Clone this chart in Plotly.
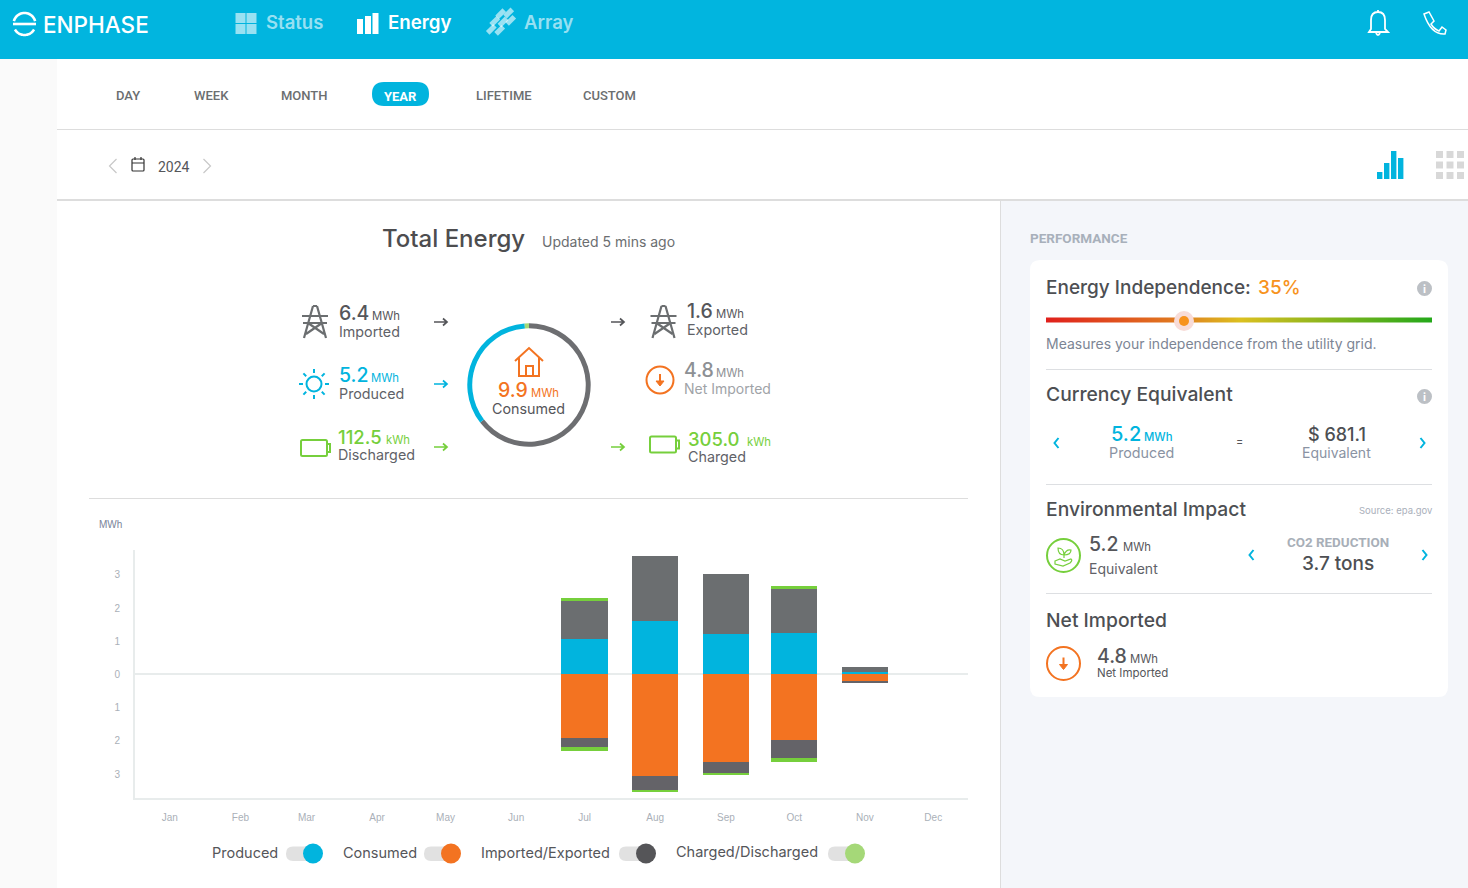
# Enphase "Total Energy" dashboard, year view
import math
import plotly.graph_objects as go

W, H = 1468, 888

# monthly energy in MWh
months = ["Jan", "Feb", "Mar", "Apr", "May", "Jun", "Jul", "Aug", "Sep", "Oct", "Nov", "Dec"]
produced = [0, 0, 0, 0, 0, 0, 1.06, 1.61, 1.22, 1.25, 0.08, 0]
imported = [0, 0, 0, 0, 0, 0, 1.16, 1.95, 1.81, 1.35, 0.16, 0]
discharged = [0, 0, 0, 0, 0, 0, 0.08, 0, 0, 0.05, 0, 0]
consumed = [0, 0, 0, 0, 0, 0, 1.92, 3.06, 2.65, 1.97, 0.21, 0]
exported = [0, 0, 0, 0, 0, 0, 0.25, 0.44, 0.33, 0.56, 0.03, 0]
charged = [0, 0, 0, 0, 0, 0, 0.14, 0.04, 0.05, 0.11, 0, 0]

y_ticks = [-3, -2, -1, 0, 1, 2, 3]
y_labels = ["3", "2", "1", "0", "1", "2", "3"]

# consumption ring: from grid, from solar, from battery
ring_values = [6.4, 3.4, 0.1125]

BLUE = "#01b4de"
ORANGE = "#f37321"
GREEN = "#76cf3c"
LGREEN = "#a5d878"
GREY = "#6b6e70"
DGREY = "#646368"
TEXT = "#55565a"
LABEL = "#5f6268"
SOFT = "#8a93a3"
FONT = "Inter, sans-serif"
NARROW = "Roboto, sans-serif"
CHART = "'Liberation Sans', Arial, sans-serif"

shapes = []
notes = []


def txt(x, y, s, size, color=TEXT, anchor="left", weight=400, family=FONT):
    # annotations sit a little inside their anchor
    shift = {"left": -1, "center": 0, "right": 2}[anchor]
    notes.append(dict(x=x + shift, y=y, xref="x2", yref="y2", text=s, showarrow=False,
                      xanchor=anchor, yanchor="middle", borderpad=0,
                      font=dict(size=size, color=color, family=family, weight=weight)))


def rect(x0, y0, x1, y1, fill, line=None, width=0):
    shapes.append(dict(type="rect", xref="x2", yref="y2", x0=x0, y0=y0, x1=x1, y1=y1,
                       fillcolor=fill, line=dict(color=line or fill, width=width)))


def circle(cx, cy, r, fill="rgba(0,0,0,0)", line=None, width=0):
    shapes.append(dict(type="circle", xref="x2", yref="y2", x0=cx - r, y0=cy - r, x1=cx + r, y1=cy + r,
                       fillcolor=fill, line=dict(color=line or fill, width=width)))


def path(d, color, width=1.8, fill="rgba(0,0,0,0)"):
    shapes.append(dict(type="path", xref="x2", yref="y2", path=d, fillcolor=fill,
                       line=dict(color=color, width=width)))


def hline(y, x0, x1, color="#dddddd", width=1):
    path(f"M{x0},{y} L{x1},{y}", color, width)


def round_box(x0, y0, x1, y1, r):
    return (f"M{x0 + r},{y0} L{x1 - r},{y0} Q{x1},{y0} {x1},{y0 + r} L{x1},{y1 - r} Q{x1},{y1} {x1 - r},{y1} "
            f"L{x0 + r},{y1} Q{x0},{y1} {x0},{y1 - r} L{x0},{y0 + r} Q{x0},{y0} {x0 + r},{y0} Z")


def arc(cx, cy, r, a0, a1):
    n = 24
    pts = []
    for i in range(n + 1):
        a = math.radians(a0 + (a1 - a0) * i / n)
        pts.append(f"{cx + r * math.cos(a):.2f},{cy + r * math.sin(a):.2f}")
    return "M" + " L".join(pts)


def arrow(x0, x1, y, color):
    path(f"M{x0},{y} L{x1},{y} M{x1 - 4},{y - 3.5} L{x1},{y} L{x1 - 4},{y + 3.5}", color, 1.7)


def chevron(x, y, dirn, color, h=5, w=4, width=2):
    path(f"M{x - dirn * w / 2},{y - h} L{x + dirn * w / 2},{y} L{x - dirn * w / 2},{y + h}", color, width)


def tower(cx, top, color):
    b = top + 32
    path(f"M{cx - 2},{top} L{cx - 11},{b} M{cx + 2},{top} L{cx + 11},{b} "
         f"M{cx - 2},{top} L{cx + 2},{top} "
         f"M{cx - 13},{top + 10} L{cx + 13},{top + 10} M{cx - 12},{top + 17} L{cx + 12},{top + 17} "
         f"M{cx - 7},{top + 17} L{cx + 9},{b - 4} M{cx + 7},{top + 17} L{cx - 9},{b - 4}", color, 2.2)


def battery(x, y, color):
    path(round_box(x, y, x + 26, y + 16, 1.5), color, 2)
    path(f"M{x + 26},{y + 4} L{x + 29},{y + 4} L{x + 29},{y + 12} L{x + 26},{y + 12}", color, 2)


def down_badge(cx, cy, r, width=2):
    circle(cx, cy, r, line=ORANGE, width=width)
    path(f"M{cx},{cy - 6} L{cx},{cy + 5}", ORANGE, 2)
    path(f"M{cx - 4},{cy + 1} L{cx},{cy + 6} L{cx + 4},{cy + 1} Z", ORANGE, 1, ORANGE)


def info(cx, cy):
    circle(cx, cy, 7.5, "#bcc0c5")
    txt(cx, cy, "i", 11, "#ffffff", "center", 700)


def kpi(x, y, value, unit, label, color=TEXT, label_color=LABEL, unit_x=None, size=19.5, label_size=14.3):
    txt(x, y, value, size, color, weight=500)
    txt(unit_x, y + 3, unit, 11.3, color)
    txt(x, y + 18, label, label_size, label_color)


# page furniture
rect(0, 0, W, 59, "#01b5df")
rect(0, 59, 57, H, "#fafafa")
rect(1001, 201, W, H, "#f4f6fa")
hline(129.5, 57, W, "#dddddd", 1)
hline(200, 57, W, "#dddddd", 2)
path(f"M1000.5,201 L1000.5,{H}", "#dddddd", 1)
path(round_box(1030, 260, 1448, 697, 10), "#ffffff", 0, "#ffffff")

# header
path(arc(24.5, 24, 11, 195, 345), "#ffffff", 2.6)
path(arc(24.5, 24, 11, 30, 150), "#ffffff", 2.6)
path("M13,24 L36,24", "#ffffff", 2.6)
txt(43, 24, "ENPHASE", 22.5, "#ffffff", weight=500)
FADED = "rgba(255,255,255,0.6)"
for x0, y0 in [(235.5, 13), (246.5, 13), (235.5, 24), (246.5, 24)]:
    rect(x0, y0, x0 + 10, y0 + 10, FADED)
txt(266, 22, "Status", 18.5, FADED, weight=600)
for x0, top in [(357, 19), (365, 16), (372.5, 13)]:
    rect(x0, top, x0 + 6, 34, "#ffffff")
txt(388, 22, "Energy", 18.7, "#ffffff", weight=600)
for cx, cy in [(500.7, 13.7), (508.7, 13), (494.7, 21.3), (503, 22), (510.7, 20.3), (491.3, 29.3), (499.7, 30.3)]:
    # tile tilted 45 degrees
    path(f"M{cx - 5.4},{cy + 1.8} L{cx + 1.8},{cy - 5.4} L{cx + 5.4},{cy - 1.8} L{cx - 1.8},{cy + 5.4} Z", FADED, 0, FADED)
txt(524, 22, "Array", 18.5, FADED, weight=600)
# bell, phone
path("M1369,32 L1371,29 L1371,20 Q1371,12 1378,12 Q1385,12 1385,20 L1385,29 L1388,32 Z M1376,33 Q1378,37 1380,33 M1378,10 L1378,12",
     "#ffffff", 1.8)
path("M1424,14 L1429,12 L1434,21 L1431,24 Q1434,29 1439,31 L1442,27 L1446,30 L1445,34 Q1431,35 1424,14 Z", "#ffffff", 1.5)

# range tabs
path(round_box(372, 82, 429, 106, 12), BLUE, 0, BLUE)
for x, name in [(128, "DAY"), (211.5, "WEEK"), (304, "MONTH"), (504, "LIFETIME"), (609, "CUSTOM")]:
    txt(x, 95.5, name, 13, GREY, "center", 500, NARROW)
txt(400.5, 96.5, "YEAR", 13, "#ffffff", "center", 700, NARROW)

# date row
chevron(113, 166, -1, "#c8c8c8", 7, 7, 1.2)
path(round_box(132, 159, 144, 171, 1), "#333333", 1.2)
path("M132,163 L144,163 M135,157 L135,160 M141,157 L141,160", "#333333", 1.2)
txt(158, 166.5, "2024", 14, TEXT, weight=400, family=NARROW)
chevron(207, 166, 1, "#c8c8c8", 7, 7, 1.2)
for x0, top in [(1377, 172), (1384, 163), (1391, 151), (1398, 158)]:
    rect(x0, top, x0 + 5.4, 179, BLUE)
for x0 in [1436, 1446.5, 1457]:
    for y0 in [151, 161.5, 172]:
        rect(x0, y0, x0 + 7, y0 + 7, "#d8d8d8")

# title and flow summary
txt(382, 238, "Total Energy", 24, "#4d4d4f", weight=500)
txt(542, 241, "Updated 5 mins ago", 14, GREY)
hline(498.5, 89, 968, "#dddddd", 1)
txt(99, 524.5, "MWh", 10, "#7a8499", family=CHART)

tower(315, 306, GREY)
kpi(339, 313, "6.4", "MWh", "Imported", unit_x=372)
arrow(434, 447, 322, TEXT)
circle(314, 384, 7.5, line=BLUE, width=2)
for k in range(8):
    a = math.radians(k * 45)
    path(f"M{314 + 11 * math.cos(a):.1f},{384 + 11 * math.sin(a):.1f} L{314 + 15 * math.cos(a):.1f},{384 + 15 * math.sin(a):.1f}", BLUE, 2)
kpi(339, 375, "5.2", "MWh", "Produced", BLUE, unit_x=371)
arrow(434, 447, 384, BLUE)
battery(301, 440, GREEN)
kpi(338, 437, "112.5", "kWh", "Discharged", GREEN, unit_x=386, size=18.5)
arrow(434, 447, 447, GREEN)

path("M515,361 L529,348 L543,361 M519,358 L519,376 L539,376 L539,358 M526,376 L526,366 L533,366 L533,376", ORANGE, 2)
txt(498, 390, "9.9", 19.5, ORANGE, weight=500)
txt(531, 393, "MWh", 11.3, ORANGE)
txt(528.5, 408, "Consumed", 14.3, TEXT, "center")

arrow(611, 624, 322, TEXT)
tower(663.5, 306, GREY)
kpi(687, 311, "1.6", "MWh", "Exported", unit_x=716)
down_badge(660, 380, 13.5)
kpi(684, 370, "4.8", "MWh", "Net Imported", "#8d9094", "#a0a3a7", unit_x=716, label_size=14)
arrow(611, 624, 447, GREEN)
battery(650, 436.5, GREEN)
kpi(688, 439, "305.0", "kWh", "Charged", GREEN, unit_x=747, size=18.5)

# performance panel
txt(1030, 237.5, "PERFORMANCE", 13.5, "#a8b0bb", weight=700, family=NARROW)
txt(1046, 287, "Energy Independence:", 19, "#4d4f53", weight=500)
txt(1258, 287, "35%", 19, "#f7931e", weight=500)
info(1424.5, 288.5)
stops = [(0, (224, 32, 28)), (0.35, (224, 127, 32)), (0.5, (220, 192, 32)), (1, (34, 168, 26))]
xs = 1046
while xs < 1432:
    t = (xs - 1046) / 386
    for (p0, c0), (p1, c1) in zip(stops, stops[1:]):
        if p0 <= t <= p1:
            f = (t - p0) / (p1 - p0)
            col = [round(a + (b - a) * f) for a, b in zip(c0, c1)]
            break
    rect(xs, 317.5, xs + 2, 322.5, f"rgb({col[0]},{col[1]},{col[2]})")
    xs += 2
circle(1184, 321, 10, "#f8dcd8")
circle(1184, 321, 5, "#f7931e")
txt(1046, 343, "Measures your independence from the utility grid.", 14, "#7c8594")
hline(369.5, 1046, 1432, "#dddfe2", 1)
txt(1046, 394, "Currency Equivalent", 19.3, "#4d4f53", weight=500)
info(1424.5, 396.5)
chevron(1056.5, 443, -1, BLUE)
chevron(1422.5, 443, 1, BLUE)
txt(1111, 434, "5.2", 20, BLUE, weight=500)
txt(1144, 437, "MWh", 11.3, BLUE, weight=500)
txt(1141.5, 452, "Produced", 14.3, SOFT, "center")
txt(1239, 441, "=", 11, TEXT, "center")
txt(1337, 434, "$ 681.1", 18, "#4d4f53", "center", 500)
txt(1336.5, 452, "Equivalent", 14, SOFT, "center")
hline(484.5, 1046, 1432, "#dddfe2", 1)
txt(1046, 509, "Environmental Impact", 19.3, "#4d4f53", weight=500)
txt(1432, 510, "Source: epa.gov", 9.5, "#aab0bb", "right")
circle(1063.5, 555.5, 16.5, line=GREEN, width=2)
path("M1055,561 L1060,559 L1065,561 L1071,559 Q1073,560 1070,563 L1063,566 L1055,564 Z "
     "M1064,558 L1064,553 M1064,555 Q1058,555 1058,548 Q1064,548 1064,555 Z M1064,555 Q1066,549 1071,550 Q1071,555 1064,555 Z", GREEN, 1.2)
txt(1089, 544, "5.2", 19.5, TEXT, weight=500)
txt(1123, 547, "MWh", 11.3, TEXT)
txt(1089, 568, "Equivalent", 14, LABEL)
chevron(1251.5, 555, -1, BLUE)
chevron(1424.5, 555, 1, BLUE)
txt(1338, 542.5, "CO2 REDUCTION", 13.4, "#a8afb8", "center", 700, NARROW)
txt(1338, 563, "3.7 tons", 19, "#4d4f53", "center", 500)
hline(593.5, 1046, 1432, "#dddfe2", 1)
txt(1046, 620, "Net Imported", 19.3, "#4d4f53", weight=500)
down_badge(1063.5, 663.5, 16.5)
txt(1097, 656, "4.8", 19.5, TEXT, weight=500)
txt(1130, 659, "MWh", 11.3, TEXT)
txt(1097, 673, "Net Imported", 11.5, TEXT)

# toggles under the chart
for text_x, name, track_x, color in [(212, "Produced", 286, BLUE), (343, "Consumed", 424, ORANGE),
                                     (481, "Imported/Exported", 619, "#555558"), (676, "Charged/Discharged", 828, LGREEN)]:
    txt(text_x, 852, name, 14.5, TEXT)
    path(round_box(track_x, 846.5, track_x + 27, 861, 7), "#e1e1e1", 0, "#e1e1e1")
    circle(track_x + 27, 853.5, 10, color)

# month centres sit on the 16th at noon of a date axis
dates = [f"2024-{m:02d}-16 12:00" for m in range(1, 13)]
fig = go.Figure()
for name, vals, sign, color in [("Produced", produced, 1, BLUE), ("Imported", imported, 1, GREY),
                                ("Discharged", discharged, 1, GREEN), ("Consumed", consumed, -1, ORANGE),
                                ("Exported", exported, -1, DGREY), ("Charged", charged, -1, GREEN)]:
    fig.add_bar(x=dates, y=[sign * v for v in vals], name=name, marker=dict(color=color, line=dict(width=0)),
                width=46.5 / 834 * 366 * 86400000, showlegend=False)

fig.add_trace(go.Pie(values=ring_values, sort=False, direction="clockwise", rotation=0, hole=0.92,
                     textinfo="none", showlegend=False, marker=dict(colors=["#6d6e71", BLUE, LGREEN], line=dict(width=0)),
                     domain=dict(x=[467.3 / W, 590.7 / W], y=[1 - 446.7 / H, 1 - 323.3 / H])))
# empty trace so the page-pixel axes exist
fig.add_trace(go.Scatter(x=[0], y=[0], xaxis="x2", yaxis="y2", mode="markers", marker=dict(opacity=0),
                         hoverinfo="skip", showlegend=False))

AXIS = "#e8ecec"
TICK = dict(size=10, color="#aab0b8", family=CHART)
fig.update_layout(
    width=W, height=H, margin=dict(l=0, r=0, t=0, b=0, pad=0), barmode="relative",
    paper_bgcolor="#ffffff", plot_bgcolor="rgba(0,0,0,0)", showlegend=False, bargap=0,
    xaxis=dict(domain=[135 / W, 968 / W], type="date", range=["2024-01-01 06:00", "2024-12-31 18:00"], tickvals=dates,
               ticktext=months, showgrid=False, zeroline=False, showline=True, linecolor=AXIS, linewidth=2,
               ticks="outside", ticklen=9, tickcolor="rgba(0,0,0,0)", tickfont=TICK, anchor="y"),
    yaxis=dict(domain=[1 - 798 / H, 1 - 550 / H], range=[-3.721, 3.749], tickvals=y_ticks, ticktext=y_labels,
               showgrid=False, zeroline=True, zerolinecolor=AXIS, zerolinewidth=2, showline=True, linecolor=AXIS,
               linewidth=2, ticks="outside", ticklen=11, tickcolor="rgba(0,0,0,0)", tickfont=TICK, anchor="x"),
    xaxis2=dict(domain=[0, 1], range=[0, W], visible=False, anchor="y2", fixedrange=True),
    yaxis2=dict(domain=[0, 1], range=[H, 0], visible=False, anchor="x2", fixedrange=True),
    shapes=shapes, annotations=notes,
)

fig.write_html("out.html", config=dict(displayModeBar=False),
               post_script="document.body.style.margin='0';document.documentElement.style.overflow='hidden';")
